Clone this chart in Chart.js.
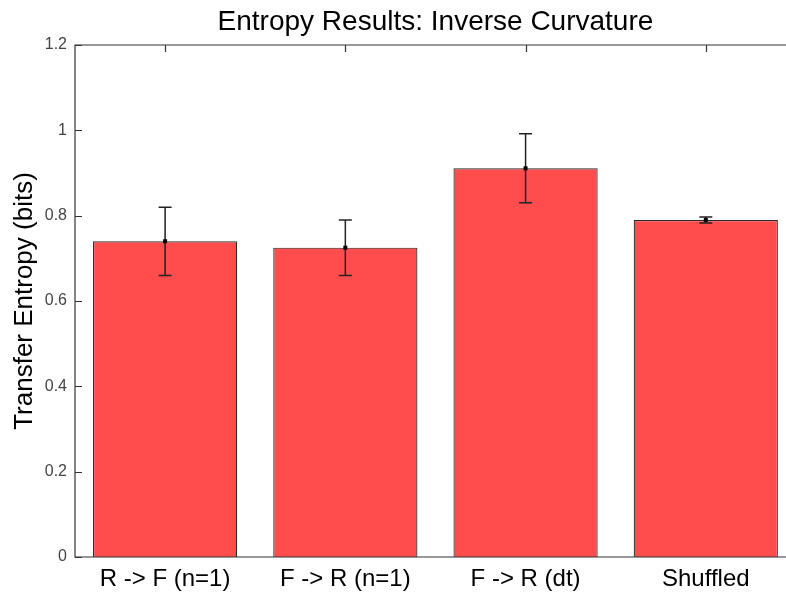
<!DOCTYPE html>
<html>
<head>
<meta charset="utf-8">
<script src="https://cdn.jsdelivr.net/npm/chart.js@4/dist/chart.umd.min.js"></script>
<style>
  html, body { margin: 0; padding: 0; background: #fff; overflow: hidden; }
</style>
</head>
<body>
<canvas id="entropy" width="786" height="593"></canvas>
<script>
// Transfer entropy per condition, with error bar half-widths
const conditions = ['R -> F (n=1)', 'F -> R (n=1)', 'F -> R (dt)', 'Shuffled'];
const entropyBits = [0.740, 0.725, 0.911, 0.790];
const entropyErr = [0.080, 0.065, 0.081, 0.007];
const yTicks = [0, 0.2, 0.4, 0.6, 0.8, 1, 1.2];

// x runs -0.5..3.5 but the figure is cropped a little before the right edge
const X_MIN = -0.5;
const X_BOX_MAX = 3.5;
const X_VISIBLE_MAX = 3.445;

const FONT = '"Liberation Sans", Arial, sans-serif';
const AXIS_COLOR = '#333';

// error bars with caps and a small marker at the mean
const errorBars = {
    id: 'errorBars',
    afterDatasetsDraw(chart) {
        const ctx = chart.ctx;
        const y = chart.scales.y;
        const meta = chart.getDatasetMeta(0);
        ctx.save();
        ctx.strokeStyle = '#222';
        ctx.fillStyle = '#000';
        ctx.lineWidth = 1.5;
        meta.data.forEach((bar, i) => {
            const top = y.getPixelForValue(entropyBits[i] + entropyErr[i]);
            const bot = y.getPixelForValue(entropyBits[i] - entropyErr[i]);
            const mid = y.getPixelForValue(entropyBits[i]);
            const cap = 6.5;
            ctx.beginPath();
            ctx.moveTo(bar.x, top); ctx.lineTo(bar.x, bot);
            ctx.moveTo(bar.x - cap, top); ctx.lineTo(bar.x + cap, top);
            ctx.moveTo(bar.x - cap, bot); ctx.lineTo(bar.x + cap, bot);
            ctx.stroke();
            ctx.fillRect(bar.x - 2, mid - 2, 4, 4);
        });
        ctx.restore();
    }
};

// matlab-style axes box: inward ticks, top ticks, and the title over the box
const axesBox = {
    id: 'axesBox',
    afterDraw(chart) {
        const ctx = chart.ctx;
        const a = chart.chartArea;
        const x = chart.scales.x;
        const y = chart.scales.y;
        const right = x.getPixelForValue(X_BOX_MAX);
        ctx.save();
        ctx.strokeStyle = AXIS_COLOR;
        ctx.lineWidth = 1.2;
        ctx.beginPath();
        ctx.moveTo(right, a.bottom); ctx.lineTo(a.left, a.bottom);
        ctx.lineTo(a.left, a.top); ctx.lineTo(right, a.top);
        ctx.lineTo(right, a.bottom);
        yTicks.forEach(v => {
            const py = Math.round(y.getPixelForValue(v)) + 0.5;
            ctx.moveTo(a.left, py); ctx.lineTo(a.left + 7, py);
            ctx.moveTo(right, py); ctx.lineTo(right - 7, py);
        });
        conditions.forEach((c, i) => {
            const px = Math.round(x.getPixelForValue(i)) + 0.5;
            ctx.moveTo(px, a.top); ctx.lineTo(px, a.top + 7);
        });
        ctx.stroke();

        ctx.fillStyle = '#000';
        ctx.font = '28px ' + FONT;
        ctx.textAlign = 'center';
        ctx.textBaseline = 'alphabetic';
        ctx.fillText('Entropy Results: Inverse Curvature', (a.left + right) / 2, 30);
        ctx.restore();
    }
};

new Chart(document.getElementById('entropy').getContext('2d'), {
    type: 'bar',
    data: {
        datasets: [{
            label: 'Transfer Entropy',
            data: entropyBits.map((v, i) => ({ x: i, y: v })),
            backgroundColor: 'rgb(255, 77, 77)',
            borderColor: '#2a2a2a',
            borderWidth: 1.2,
            barPercentage: 0.8,
            categoryPercentage: 1.0,
        }]
    },
    options: {
        responsive: false,
        animation: false,
        layout: { padding: { left: 0, right: 0, top: 45, bottom: 0 } },
        plugins: {
            legend: { display: false },
            tooltip: { enabled: false },
        },
        scales: {
            x: {
                type: 'linear',
                offset: false,
                min: X_MIN,
                max: X_VISIBLE_MAX,
                afterBuildTicks: scale => { scale.ticks = conditions.map((c, i) => ({ value: i })); },
                grid: { display: false, drawTicks: false },
                border: { display: false },
                ticks: {
                    color: '#000',
                    font: { family: FONT, size: 24 },
                    padding: 8,
                    maxRotation: 0,
                    autoSkip: false,
                    callback: v => conditions[v],
                },
                afterFit: scale => { scale.height = 36; },
            },
            y: {
                min: 0,
                max: 1.2,
                afterBuildTicks: scale => { scale.ticks = yTicks.map(v => ({ value: v })); },
                grid: { display: false, drawTicks: false },
                border: { display: false },
                ticks: {
                    color: '#444',
                    font: { family: FONT, size: 16 },
                    padding: 8,
                    callback: v => String(v),
                },
                title: {
                    display: true,
                    text: 'Transfer Entropy (bits)',
                    color: '#000',
                    font: { family: FONT, size: 26 },
                    padding: { top: 9, bottom: 0 },
                },
                afterFit: scale => { scale.width = 75; },
            }
        }
    },
    plugins: [errorBars, axesBox]
});
</script>
</body>
</html>
